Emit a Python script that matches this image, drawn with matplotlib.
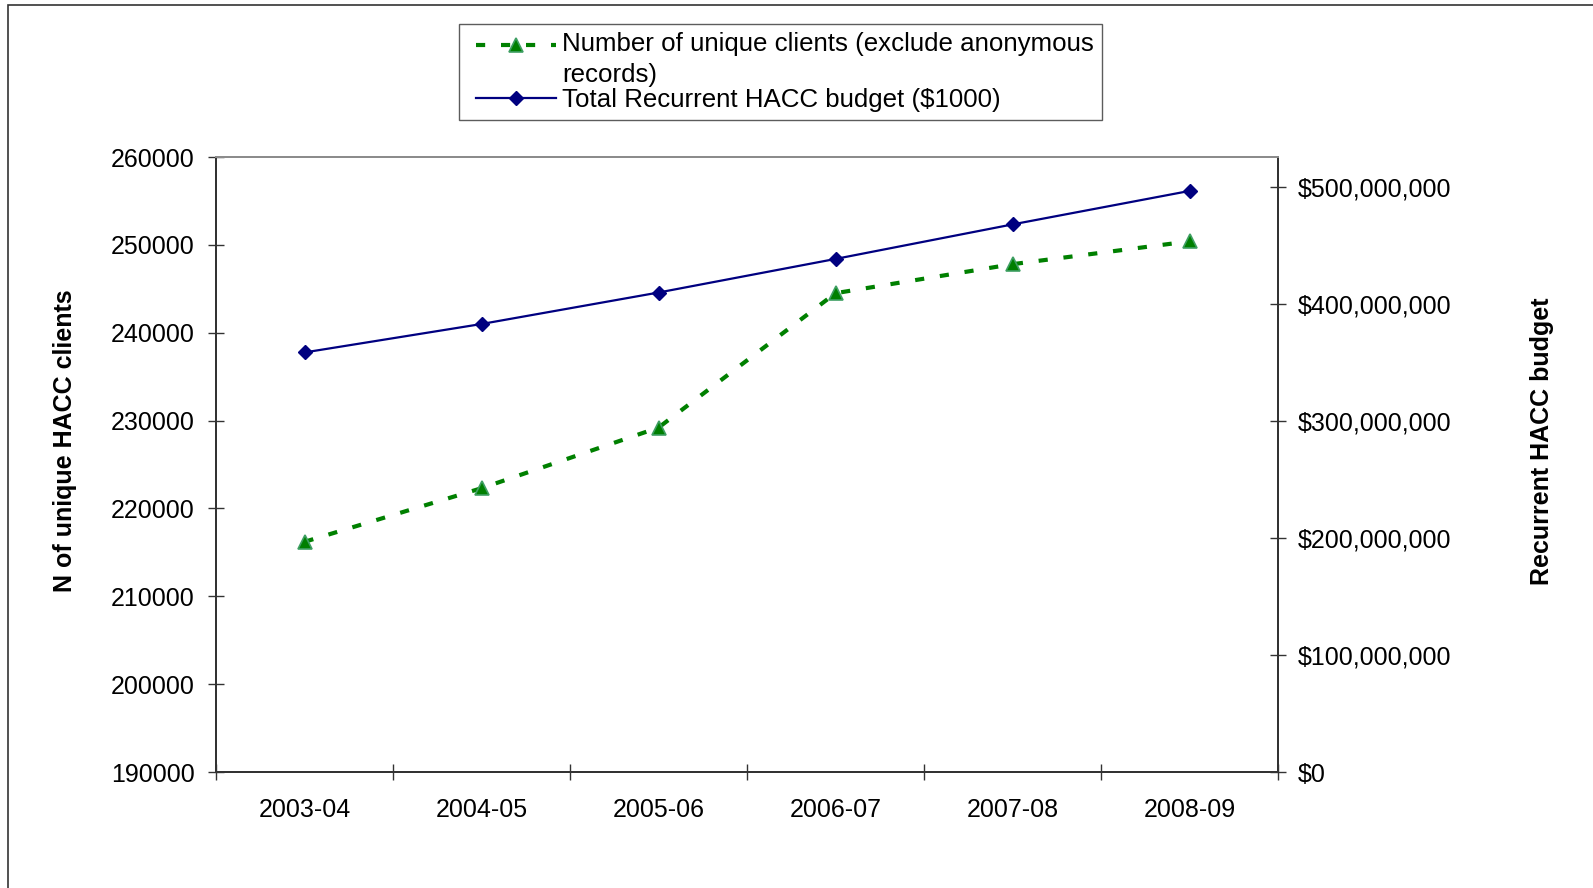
import matplotlib

matplotlib.use("Agg")

import matplotlib.pyplot as plt
import numpy as np
from matplotlib.legend_handler import HandlerLine2D
from matplotlib.lines import Line2D
from matplotlib.patches import Rectangle
from matplotlib.ticker import FuncFormatter


OUTPUT_PATH = "out.png"

YEARS = ["2003-04", "2004-05", "2005-06", "2006-07", "2007-08", "2008-09"]
CLIENTS = [216200, 222300, 229200, 244500, 247800, 250400]
BUDGET = [358_500_000, 382_800_000, 409_700_000, 438_400_000, 467_900_000, 496_500_000]

CLIENT_TICKS = [190000, 200000, 210000, 220000, 230000, 240000, 250000, 260000]
BUDGET_TICKS = [0, 100_000_000, 200_000_000, 300_000_000, 400_000_000, 500_000_000]

CLIENT_LABEL = "Number of unique clients (exclude anonymous\nrecords)"
BUDGET_LABEL = "Total Recurrent HACC budget ($1000)"

W, H = 1593, 888

GREEN_STYLE = dict(color="#008000", linewidth=3.0, linestyle=(0, (2.2, 3.8)),
                   marker="^", markersize=10, markerfacecolor="#007f00",
                   markeredgecolor="#3f9f63", markeredgewidth=1.2)
BLUE_STYLE = dict(color="#000080", linewidth=1.6, marker="D", markersize=7.2,
                  markerfacecolor="#000080", markeredgecolor="#000080")


class ShiftedHandler(HandlerLine2D):
    """Legend line that starts dx points in and sits dy points higher."""

    def __init__(self, dx=0.0, dy=0.0, **kw):
        super().__init__(**kw)
        self.dx, self.dy = dx, dy

    def create_artists(self, legend, orig_handle, xdescent, ydescent, width, height,
                       fontsize, trans):
        return super().create_artists(legend, orig_handle, xdescent - self.dx,
                                      ydescent - 2 * self.dy, width - self.dx, height,
                                      fontsize, trans)


def px(x, y):
    # pixel coords (top-left origin) -> figure fraction
    return x / W, 1 - y / H


def main() -> None:
    plt.rcParams.update({
        "font.family": ["Liberation Sans", "DejaVu Sans"],
        "font.size": 18,
    })

    fig = plt.figure(figsize=(W / 100, H / 100), dpi=100)
    fig.patch.set_facecolor("white")

    # outer chart border (only left and top edges visible)
    x0, y0 = px(8, 5)
    fig.add_artist(Rectangle((x0, -0.2), 1.5, y0 + 0.2, transform=fig.transFigure,
                             fill=False, edgecolor="#333333", linewidth=1.2, clip_on=False))

    left, top = px(216, 157)
    right, bottom = px(1278, 772)
    ax = fig.add_axes([left, bottom, right - left, top - bottom])
    ax2 = ax.twinx()

    x = np.arange(len(YEARS))

    ax.plot(x, CLIENTS, zorder=3, **GREEN_STYLE)
    ax2.plot(x, BUDGET, zorder=3, **BLUE_STYLE)

    ax.set_xlim(-0.5, len(YEARS) - 0.5)
    ax.set_ylim(CLIENT_TICKS[0], CLIENT_TICKS[-1])
    ax2.set_ylim(0, 525_500_000)

    ax.set_xticks(x, YEARS)
    ax.set_xticks(np.arange(len(YEARS) + 1) - 0.5, minor=True)
    ax.tick_params(axis="x", which="major", length=0, pad=18.5)
    ax.tick_params(axis="x", which="minor", direction="inout", length=11.5, width=1,
                   color="#333333")

    ax.set_yticks(CLIENT_TICKS)
    ax.tick_params(axis="y", direction="inout", length=11.5, width=1, pad=9.4,
                   color="#333333")

    ax2.set_yticks(BUDGET_TICKS)
    ax2.yaxis.set_major_formatter(FuncFormatter(lambda v, _: f"${v:,.0f}"))
    ax2.tick_params(axis="y", direction="inout", length=11.5, width=1, pad=8.6,
                    color="#333333")

    for a in (ax, ax2):
        a.set_facecolor("none")
        a.spines["top"].set_color("#8c8c8c")
        for side in ("left", "bottom", "right"):
            a.spines[side].set_color("#333333")
        for s in a.spines.values():
            s.set_linewidth(1.4)

    lx, ly = px(65, 441)
    fig.text(lx, ly, "N of unique HACC clients", rotation=90, ha="center", va="center",
             fontweight="bold", fontsize=18)
    rx, ry = px(1542, 441)
    fig.text(rx, ry, "Recurrent HACC budget", rotation=90, ha="center", va="center",
             fontweight="bold", fontsize=18)

    green_handle = Line2D([], [], **GREEN_STYLE)
    blue_handle = Line2D([], [], **BLUE_STYLE)
    gx, gy = px(459, 24)
    leg = fig.legend(
        [green_handle, blue_handle], [CLIENT_LABEL, BUDGET_LABEL], loc="upper left",
        bbox_to_anchor=(gx, gy), bbox_transform=fig.transFigure,
        frameon=True, fancybox=False, handlelength=3.45, handletextpad=0.25,
        borderpad=0.3, labelspacing=0.04, borderaxespad=0, fontsize=18.6,
        handler_map={green_handle: ShiftedHandler(dx=6.5, dy=11.0),
                     blue_handle: ShiftedHandler(dx=6.5)},
    )
    leg.get_texts()[0].set_linespacing(1.38)
    leg.get_frame().set_edgecolor("#333333")
    leg.get_frame().set_linewidth(1.0)

    fig.savefig(OUTPUT_PATH, dpi=100, facecolor="white")
    plt.close(fig)


if __name__ == "__main__":
    main()
